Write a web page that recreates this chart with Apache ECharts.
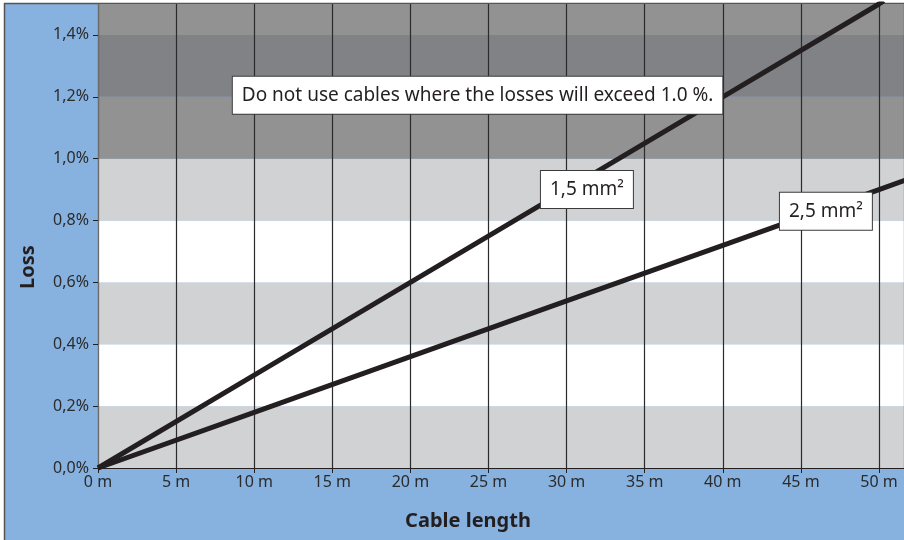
<!DOCTYPE html>
<html><head><meta charset="utf-8">
<script src="https://cdn.jsdelivr.net/npm/echarts@6/dist/echarts.min.js"></script>
<style>html,body{margin:0;padding:0;background:#fff;}#main{width:904px;height:540px;}</style>
</head><body><div id="main"></div>
<script>
// Data
var lengths15 = [0, 10, 20, 30, 40, 50, 50.3];
var loss15 = [0, 0.30, 0.60, 0.90, 1.20, 1.50, 1.51];
var lengths25 = [0, 10, 20, 30, 40, 50, 52];
var loss25 = [0, 0.18, 0.36, 0.54, 0.72, 0.90, 0.936];
var xTicks = [0, 5, 10, 15, 20, 25, 30, 35, 40, 45, 50];
var yTicks = [0, 0.2, 0.4, 0.6, 0.8, 1.0, 1.2, 1.4];
var warnText = 'Do not use cables where the losses will exceed 1.0 %.';
var label15 = '1,5 mm²';
var label25 = '2,5 mm²';

var FONT = 'Noto Sans';
var chart = echarts.init(document.getElementById('main'));
function pairs(xs, ys){ return xs.map(function(x,i){return [x, ys[i]];}); }
var boxLabel = {
  show: true, color: '#231f20', fontFamily: FONT, fontSize: 19,
  backgroundColor: '#ffffff', borderColor: '#3a3a3a', borderWidth: 1,
  padding: [10, 9, 8, 9], position: 'inside'
};
chart.setOption({
  backgroundColor: '#87b1df',
  animation: false,
  grid: {left: 98, right: 0, top: 4, bottom: 72, containLabel: false},
  xAxis: {
    type: 'value', min: 0, max: 51.6, interval: 5,
    axisLine: {show: true, lineStyle: {color: '#231f20', width: 1}},
    axisTick: {show: true, length: 5, lineStyle: {color: '#231f20'}},
    axisLabel: {showMaxLabel: false, color: '#2b2b2b', fontFamily: FONT, fontSize: 16, margin: 6,
      formatter: function(v){ return v + ' m'; }},
    splitLine: {show: true, lineStyle: {color: '#2b2b2b', width: 1.2}}
  },
  yAxis: {
    type: 'value', min: 0, max: 1.5, interval: 0.2,
    axisLine: {show: true, lineStyle: {color: '#6b6b6b', width: 1}},
    axisTick: {show: true, length: 5, lineStyle: {color: '#231f20'}},
    axisLabel: {showMaxLabel: false, color: '#2b2b2b', fontFamily: FONT, fontSize: 16, margin: 9,
      formatter: function(v){ return v.toFixed(1).replace('.', ',') + '%'; }},
    splitLine: {show: false},
    splitArea: {show: true, areaStyle: {color: ['#d1d2d4','#ffffff','#d1d2d4','#ffffff','#d1d2d4','#929293','#818285','#929293']}}
  },
  graphic: [
    {type: 'rect', shape: {x: 0, y: 0, width: 904, height: 3}, style: {fill: '#ffffff'}, z: 0},
    {type: 'rect', shape: {x: 0, y: 0, width: 4, height: 540}, style: {fill: '#ffffff'}, z: 0},
    {type: 'line', shape: {x1: 4, y1: 3.5, x2: 904, y2: 3.5}, style: {stroke: '#555555', lineWidth: 1.5}, z: 0},
    {type: 'line', shape: {x1: 4.5, y1: 3, x2: 4.5, y2: 540}, style: {stroke: '#555555', lineWidth: 1.5}, z: 0},
    {type: 'text', position: [468, 521], style: {text: 'Cable length', fill: '#231f20', font: 'bold 20px "' + FONT + '"', textAlign: 'center', textVerticalAlign: 'middle'}, z: 10},
    {type: 'text', rotation: Math.PI/2, position: [28, 267], style: {text: 'Loss', fill: '#231f20', font: 'bold 20px "' + FONT + '"', textAlign: 'center', textVerticalAlign: 'middle'}, z: 10}
  ],
  series: [
    {type: 'line', data: pairs(lengths15, loss15), symbol: 'none', clip: true,
      lineStyle: {color: '#231f20', width: 5}, z: 3,
      markPoint: {symbol: 'rect', symbolSize: 0, silent: true,
        data: [
          {coord: [24.3, 1.205], value: warnText, label: Object.assign({}, boxLabel, {formatter: warnText})},
          {coord: [31.3, 0.90], value: label15, label: Object.assign({}, boxLabel, {formatter: label15})}
        ]}},
    {type: 'line', data: pairs(lengths25, loss25), symbol: 'none', clip: true,
      lineStyle: {color: '#231f20', width: 5}, z: 3,
      markPoint: {symbol: 'rect', symbolSize: 0, silent: true,
        data: [
          {coord: [46.6, 0.83], value: label25, label: Object.assign({}, boxLabel, {formatter: label25})}
        ]}}
  ]
});
</script></body></html>
